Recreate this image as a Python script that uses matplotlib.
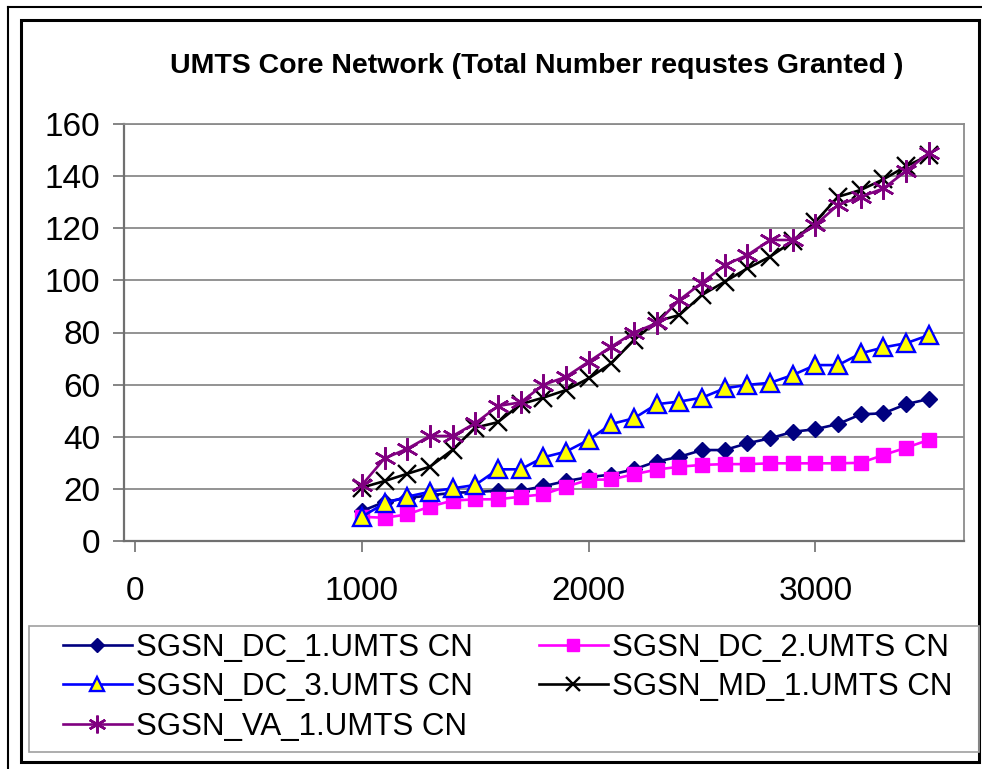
"""Recria o gráfico 'UMTS Core Network (Total Number requstes Granted )'.

Os valores foram lidos da figura original (estilo Excel, dispersão com
linhas e marcadores) e ficam em listas simples no topo do arquivo.
"""

from __future__ import annotations

import matplotlib

matplotlib.use("Agg")

import matplotlib.pyplot as plt  # noqa: E402
from matplotlib.lines import Line2D  # noqa: E402
from matplotlib.patches import Rectangle  # noqa: E402

FIG_W, FIG_H = 982, 769
FONT = "Liberation Sans"

TITLE = "UMTS Core Network (Total Number requstes Granted )"

X_VALUES = [
    1000, 1100, 1200, 1300, 1400, 1500, 1600, 1700, 1800, 1900, 2000, 2100, 2200,
    2300, 2400, 2500, 2600, 2700, 2800, 2900, 3000, 3100, 3200, 3300, 3400, 3500,
]
SGSN_DC_1 = [
    11.5, 15.0, 16.5, 17.5, 18.5, 18.8, 19.3, 19.3, 21.0, 23.0, 24.5, 25.5, 27.5,
    30.5, 32.3, 34.9, 34.9, 37.5, 39.4, 41.9, 42.9, 44.9, 48.6, 49.0, 52.5, 54.5,
]
SGSN_DC_2 = [
    9.3, 8.9, 10.2, 13.2, 15.5, 16.0, 16.0, 17.0, 17.9, 20.8, 23.5, 23.6, 25.6,
    27.4, 28.5, 29.2, 29.5, 29.5, 29.8, 29.8, 29.8, 29.8, 30.0, 33.0, 35.8, 38.8,
]
SGSN_DC_3 = [
    9.3, 14.5, 17.0, 18.9, 20.2, 21.5, 27.5, 27.5, 32.1, 34.3, 38.8, 44.9, 47.1,
    52.5, 53.5, 55.0, 58.6, 59.9, 60.7, 63.7, 67.5, 67.5, 72.0, 74.3, 75.9, 79.0,
]
SGSN_MD_1 = [
    20.5, 23.0, 25.8, 28.5, 35.0, 43.5, 45.6, 52.5, 55.0, 57.9, 62.4, 68.2, 77.1,
    84.3, 86.7, 94.4, 99.5, 104.6, 109.1, 115.0, 122.5, 132.1, 134.7, 138.8, 143.8,
    148.0,
]
SGSN_VA_1 = [
    21.5, 31.7, 35.4, 40.3, 40.3, 45.2, 51.8, 53.2, 59.9, 63.0, 68.8, 74.6, 80.0,
    83.6, 92.5, 99.1, 105.9, 109.7, 115.5, 115.5, 121.3, 129.0, 132.0, 135.3, 142.0,
    148.8,
]

X_TICKS = [0, 1000, 2000, 3000]
Y_TICKS = [0, 20, 40, 60, 80, 100, 120, 140, 160]

SERIES_STYLES = [
    ("SGSN_DC_1.UMTS CN", SGSN_DC_1, dict(color="#000080", marker="D", ms=8.5,
                                          mfc="#000080", mec="#000080")),
    ("SGSN_DC_2.UMTS CN", SGSN_DC_2, dict(color="#FF00FF", marker="s", ms=10,
                                          mfc="#FF00FF", mec="#FF00FF")),
    ("SGSN_DC_3.UMTS CN", SGSN_DC_3, dict(color="#0000FF", marker="^", ms=13,
                                          mfc="#FFFF00", mec="#0000FF", mew=1.7)),
    ("SGSN_MD_1.UMTS CN", SGSN_MD_1, dict(color="#000000", marker="x", ms=13,
                                          mec="#000000", mew=1.7)),
    ("SGSN_VA_1.UMTS CN", SGSN_VA_1, dict(color="#800080", marker=(6, 2, 0), ms=16,
                                          mec="#800080", mew=1.8)),
]


def fx(px: float) -> float:
    return px / FIG_W


def fy(py: float) -> float:
    return 1 - py / FIG_H


def draw_frames(fig: plt.Figure) -> None:
    """Molduras externas e caixa da legenda, em pixels da figura."""
    fig.add_artist(Line2D([fx(8), fx(982)], [fy(7), fy(7)], color="black",
                          lw=1.5, transform=fig.transFigure))
    fig.add_artist(Line2D([fx(8), fx(8)], [fy(7), fy(769)], color="black",
                          lw=1.5, transform=fig.transFigure))
    fig.add_artist(Rectangle((fx(21), fy(762)), fx(979) - fx(21), fy(20) - fy(762),
                             fill=False, ec="black", lw=2.2,
                             transform=fig.transFigure))
    fig.add_artist(Rectangle((fx(29), fy(752)), fx(979) - fx(29), fy(626) - fy(752),
                             fill=False, ec="#A0A0A0", lw=1.2,
                             transform=fig.transFigure))


def main() -> None:
    fig = plt.figure(figsize=(FIG_W / 100, FIG_H / 100), dpi=100)
    fig.patch.set_facecolor("white")
    ax = fig.add_axes([fx(124), fy(541), fx(964) - fx(124), fy(124) - fy(541)])

    handles = []
    for label, values, style in SERIES_STYLES:
        (line,) = ax.plot(X_VALUES, values, lw=1.9, label=label, **style)
        handles.append(line)

    ax.set_xlim(-49, 3655)
    ax.set_ylim(0, 160)
    ax.set_xticks(X_TICKS)
    ax.set_yticks(Y_TICKS)
    ax.grid(axis="y", color="#808080", lw=1.2, zorder=0)
    ax.set_axisbelow(True)
    for side in ("top", "right"):
        ax.spines[side].set_color("#8C8C8C")
        ax.spines[side].set_linewidth(1.3)
    for side in ("left", "bottom"):
        ax.spines[side].set_color("#707070")
        ax.spines[side].set_linewidth(1.6)
    ax.tick_params(axis="y", direction="out", length=8, width=1.2, color="#707070",
                   pad=9, labelsize=24)
    ax.tick_params(axis="x", direction="out", length=8, width=1.2, color="#707070",
                   pad=17, labelsize=24)
    for lab in ax.get_xticklabels() + ax.get_yticklabels():
        lab.set_fontfamily(FONT)

    fig.text(fx(537), fy(73), TITLE, ha="center", va="baseline", fontsize=20.5,
             fontweight="bold", family=FONT)

    draw_frames(fig)

    legend_kw = dict(frameon=False, loc="upper left", borderpad=0, borderaxespad=0,
                     handlelength=2.2, handletextpad=0.15, labelspacing=0.3,
                     prop={"family": FONT, "size": 22.5}, numpoints=1,
                     markerscale=0.8)
    fig.legend([handles[0], handles[2], handles[4]],
               [SERIES_STYLES[i][0] for i in (0, 2, 4)],
               bbox_to_anchor=(fx(63), fy(633)), **legend_kw)
    fig.legend([handles[1], handles[3]],
               [SERIES_STYLES[i][0] for i in (1, 3)],
               bbox_to_anchor=(fx(539), fy(633)), **legend_kw)

    fig.savefig("out.png", dpi=100, facecolor="white")
    plt.close(fig)


if __name__ == "__main__":
    main()
